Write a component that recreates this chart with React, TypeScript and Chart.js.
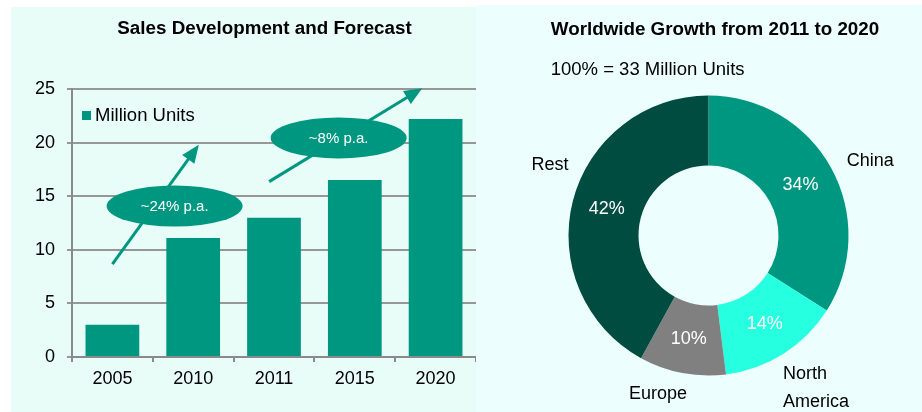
import React, { useEffect, useRef } from 'react';
import { Chart, registerables } from 'chart.js';

Chart.register(...registerables);

const FONT = '"Liberation Sans", Arial, Helvetica, sans-serif';

// ---- data ----
const years = ['2005', '2010', '2011', '2015', '2020'];
const millionUnits = [3, 11.1, 13, 16.5, 22.2];
const yTickValues = [0, 5, 10, 15, 20, 25];
const growthRates = ['~24% p.a.', '~8% p.a.'];

const regions = ['China', 'North America', 'Europe', 'Rest'];
const regionShares = [34, 14, 10, 42];

const barTitle = 'Sales Development and Forecast';
const doughnutTitle = 'Worldwide Growth from 2011 to 2020';
const doughnutSubtitle = '100% = 33 Million Units';
const seriesLabel = 'Million Units';

// ---- styles / layout ----
const TEAL = '#009780';
const REGION_COLORS = ['#009780', '#26ffe0', '#808080', '#004c40'];
const GRID = '#979797';
const AXIS = '#8a8a8a';

// growth annotations in data space: [category index, value]
const GROWTH_ANNOTATIONS = [
  { from: [0.0, 8.66], to: [1.07, 19.8], bubble: [0.77, 14.08] },
  { from: [1.94, 16.36], to: [3.835, 25.08], bubble: [2.8, 20.44] },
];

// region label offsets relative to doughnut centre
const REGION_LABEL_LAYOUT = [
  { dx: 161.8, dy: -69.8, align: 'center', wrap: false },
  { dx: 74.5, dy: 143.8, align: 'left', wrap: true },
  { dx: -50.5, dy: 163.8, align: 'center', wrap: false },
  { dx: -158.5, dy: -65.5, align: 'center', wrap: false },
];

const titlePlugin = (text: string, x: number, y: number, sub?: { text: string; x: number; y: number }) => ({
  id: 'panelTitle',
  afterDraw(chart: any) {
    const ctx = chart.ctx;
    ctx.save();
    ctx.fillStyle = '#000';
    ctx.textBaseline = 'alphabetic';
    ctx.textAlign = 'center';
    ctx.font = `bold 18.8px ${FONT}`;
    ctx.fillText(text, x, y);
    if (sub) {
      ctx.textAlign = 'left';
      ctx.font = `18.5px ${FONT}`;
      ctx.fillText(sub.text, sub.x, sub.y);
    }
    ctx.restore();
  },
});

const barExtras = {
  id: 'barExtras',
  afterDatasetsDraw(chart: any) {
    const ctx = chart.ctx;
    const xs = chart.scales.x;
    const ys = chart.scales.y;
    const area = chart.chartArea;
    const px = (p: number[]) => [xs.getPixelForValue(p[0]), ys.getPixelForValue(p[1])];
    ctx.save();
    // arrows
    GROWTH_ANNOTATIONS.forEach((a) => {
      const [x0, y0] = px(a.from);
      const [x1, y1] = px(a.to);
      const dx = x1 - x0;
      const dy = y1 - y0;
      const len = Math.hypot(dx, dy);
      const ux = dx / len;
      const uy = dy / len;
      const headLen = 18;
      const headW = 15;
      const bx = x1 - ux * headLen;
      const by = y1 - uy * headLen;
      ctx.strokeStyle = TEAL;
      ctx.lineWidth = 3;
      ctx.beginPath();
      ctx.moveTo(x0, y0);
      ctx.lineTo(bx + ux * 2, by + uy * 2);
      ctx.stroke();
      ctx.fillStyle = TEAL;
      ctx.beginPath();
      ctx.moveTo(x1, y1);
      ctx.lineTo(bx - uy * headW / 2, by + ux * headW / 2);
      ctx.lineTo(bx + uy * headW / 2, by - ux * headW / 2);
      ctx.closePath();
      ctx.fill();
    });
    // bubbles
    GROWTH_ANNOTATIONS.forEach((a, i) => {
      const [cx, cy] = px(a.bubble);
      ctx.fillStyle = TEAL;
      ctx.beginPath();
      ctx.ellipse(cx, cy, 68, 20.5, 0, 0, Math.PI * 2);
      ctx.fill();
      ctx.fillStyle = '#fff';
      ctx.font = `15px ${FONT}`;
      ctx.textAlign = 'center';
      ctx.textBaseline = 'middle';
      ctx.fillText(growthRates[i], cx, cy + 1);
    });
    // legend inside plot
    const ds = chart.data.datasets[0];
    ctx.fillStyle = ds.backgroundColor;
    ctx.fillRect(area.left + 10, area.top + 22, 9, 9);
    ctx.fillStyle = '#000';
    ctx.font = `18.5px ${FONT}`;
    ctx.textAlign = 'left';
    ctx.textBaseline = 'alphabetic';
    ctx.fillText(ds.label, area.left + 23, area.top + 32);
    ctx.restore();
  },
};

const doughnutExtras = {
  id: 'doughnutExtras',
  afterDatasetsDraw(chart: any) {
    const ctx = chart.ctx;
    const meta = chart.getDatasetMeta(0);
    const total = regionShares.reduce((s, v) => s + v, 0);
    ctx.save();
    meta.data.forEach((arc: any, i: number) => {
      const c = arc.getCenterPoint();
      ctx.fillStyle = '#fff';
      ctx.font = `18px ${FONT}`;
      ctx.textAlign = 'center';
      ctx.textBaseline = 'middle';
      ctx.fillText(`${Math.round((regionShares[i] / total) * 100)}%`, c.x, c.y);
      const lay = REGION_LABEL_LAYOUT[i];
      const lines = lay.wrap ? regions[i].split(' ') : [regions[i]];
      ctx.fillStyle = '#000';
      ctx.textAlign = lay.align;
      ctx.textBaseline = 'alphabetic';
      lines.forEach((ln, k) => {
        ctx.fillText(ln, arc.x + lay.dx, arc.y + lay.dy + k * 27.4);
      });
    });
    ctx.restore();
  },
};

export default function App() {
  const barRef = useRef<HTMLCanvasElement>(null);
  const pieRef = useRef<HTMLCanvasElement>(null);

  useEffect(() => {
    Chart.defaults.font.family = FONT;
    const bar = new Chart(barRef.current as HTMLCanvasElement, {
      type: 'bar',
      data: {
        labels: years,
        datasets: [
          {
            label: seriesLabel,
            data: millionUnits,
            backgroundColor: TEAL,
            borderWidth: 0,
            barPercentage: 0.665,
            categoryPercentage: 1,
          },
        ],
      },
      options: {
        animation: false,
        responsive: false,
        devicePixelRatio: 1,
        layout: { padding: { left: 0, top: 89, right: 0, bottom: 0 } },
        plugins: { legend: { display: false }, tooltip: { enabled: false }, title: { display: false } },
        scales: {
          x: {
            grid: { offset: true, drawOnChartArea: false, drawTicks: true, tickLength: 5, color: AXIS, lineWidth: 2 },
            border: { color: AXIS, width: 2 },
            ticks: { color: '#000', font: { size: 18, family: FONT }, padding: 6 },
            afterFit: (s: any) => {
              s.height = 55;
            },
          },
          y: {
            min: 0,
            max: 25,
            afterBuildTicks: (s: any) => {
              s.ticks = yTickValues.map((v) => ({ value: v }));
            },
            grid: { color: GRID, lineWidth: 2, tickLength: 5 },
            border: { color: AXIS, width: 2 },
            ticks: { color: '#000', font: { size: 18, family: FONT }, padding: 12 },
            afterFit: (s: any) => {
              s.width = 72;
            },
          },
        },
      } as any,
      plugins: [barExtras, titlePlugin(barTitle, 264.5, 34)],
    });

    const pie = new Chart(pieRef.current as HTMLCanvasElement, {
      type: 'doughnut',
      data: {
        labels: regions,
        datasets: [
          {
            data: regionShares,
            backgroundColor: REGION_COLORS,
            borderWidth: 0,
          },
        ],
      },
      options: {
        animation: false,
        responsive: false,
        devicePixelRatio: 1,
        cutout: '50%',
        layout: { padding: { left: 92.5, top: 95.5, right: 73.5, bottom: 36.5 } },
        plugins: { legend: { display: false }, tooltip: { enabled: false }, title: { display: false } },
      } as any,
      plugins: [doughnutExtras, titlePlugin(doughnutTitle, 239, 35, { text: doughnutSubtitle, x: 74.7, y: 75 })],
    });

    return () => {
      bar.destroy();
      pie.destroy();
    };
  }, []);

  return (
    <div style={{ position: 'absolute', left: 0, top: 0, width: 922, height: 412, background: '#fff', overflow: 'hidden' }}>
      <div style={{ position: 'absolute', left: 11, top: 7, width: 465, height: 405, background: '#e8fcf8' }} />
      <div style={{ position: 'absolute', left: 476, top: 5, width: 446, height: 407, background: '#ecfefe' }} />
      <canvas ref={barRef} width={476} height={412} style={{ position: 'absolute', left: 0, top: 0, width: 476, height: 412 }} />
      <canvas ref={pieRef} width={446} height={412} style={{ position: 'absolute', left: 476, top: 0, width: 446, height: 412 }} />
    </div>
  );
}
